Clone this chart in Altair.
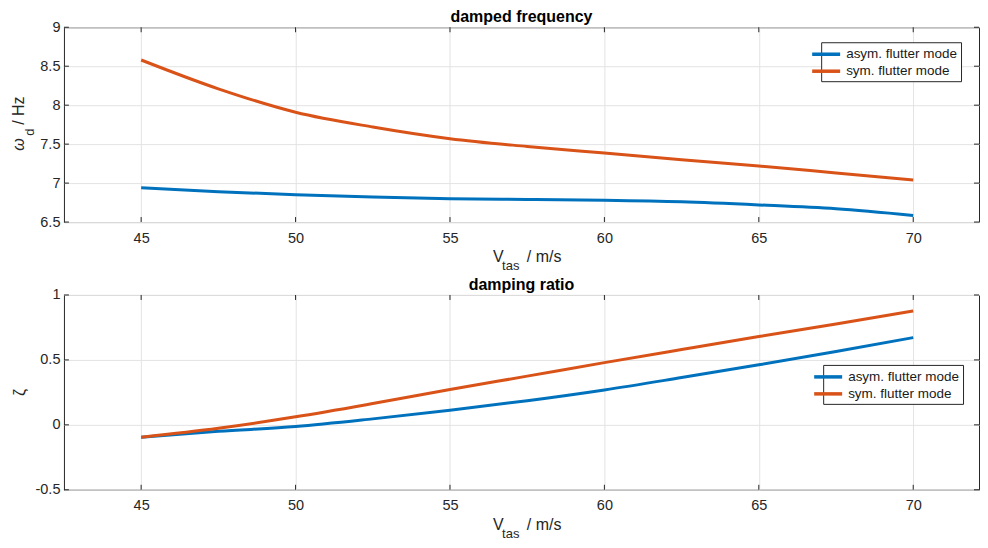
import altair as alt
import pandas as pd

# ---- data ----
speed = [45, 47.5, 50, 52.5, 55, 57.5, 60, 62.5, 65, 67.5, 70]
freq_asym = [6.94, 6.89, 6.85, 6.82, 6.80, 6.79, 6.78, 6.76, 6.72, 6.67, 6.585]
freq_sym = [8.58, 8.21, 7.91, 7.72, 7.57, 7.47, 7.385, 7.30, 7.22, 7.13, 7.04]
damp_asym = [-0.095, -0.05, -0.013, 0.046, 0.113, 0.186, 0.269, 0.364, 0.462, 0.564, 0.672]
damp_sym = [-0.095, -0.026, 0.062, 0.164, 0.272, 0.375, 0.479, 0.58, 0.68, 0.777, 0.877]
series = ["asym. flutter mode", "sym. flutter mode"]
x_ticks = [45, 50, 55, 60, 65, 70]
freq_ticks = [6.5, 7, 7.5, 8, 8.5, 9]
damp_ticks = [-0.5, 0, 0.5, 1]

COLORS = ["#0072BD", "#D95319"]
FONT = "Liberation Sans"
INK = "#262626"
W, H = 916, 195
X_DOM = [42.5, 72.13]

ONE = pd.DataFrame({"k": [0]})


def label(text, x, y, size, angle=0, align="left", style="normal"):
    return alt.Chart(ONE).mark_text(
        text=text, fontSize=size, angle=angle, align=align,
        baseline="alphabetic", font=FONT, color=INK, fontStyle=style,
    ).encode(x=alt.value(x), y=alt.value(y))


def panel(vals_a, vals_s, y_dom, y_ticks, title, leg_x, leg_y, ytitle_layers):
    df = pd.DataFrame({
        "speed": speed + speed,
        "value": vals_a + vals_s,
        "series": [series[0]] * len(speed) + [series[1]] * len(speed),
    })
    xs = alt.Scale(domain=X_DOM, nice=False, zero=False)
    ys = alt.Scale(domain=y_dom, nice=False, zero=False)
    x_axis = alt.Axis(values=x_ticks, labelExpr="datum.value + ''", labelPadding=9,
                      grid=True, ticks=False, domain=False)
    y_axis = alt.Axis(values=y_ticks, labelExpr="datum.value + ''", labelPadding=4,
                      grid=True, ticks=False, domain=False)

    lines = alt.Chart(df).mark_line(strokeWidth=3, interpolate="monotone").encode(
        x=alt.X("speed:Q", scale=xs, title=None, axis=x_axis),
        y=alt.Y("value:Q", scale=ys, title=None, axis=y_axis),
        color=alt.Color("series:N", scale=alt.Scale(domain=series, range=COLORS),
                        legend=alt.Legend(title=None, orient="none",
                                          legendX=leg_x, legendY=leg_y)),
    )

    xt = pd.DataFrame({"t": x_ticks})
    yt = pd.DataFrame({"t": y_ticks})
    tick_style = dict(color=INK, strokeWidth=1)
    xb = alt.Chart(xt).mark_rule(**tick_style).encode(
        x=alt.X("t:Q", scale=xs, title=None, axis=x_axis),
        y=alt.value(H), y2=alt.value(H - 5))
    xtp = alt.Chart(xt).mark_rule(**tick_style).encode(
        x=alt.X("t:Q", scale=xs, title=None, axis=x_axis),
        y=alt.value(0), y2=alt.value(5))
    yl = alt.Chart(yt).mark_rule(**tick_style).encode(
        y=alt.Y("t:Q", scale=ys, title=None, axis=y_axis),
        x=alt.value(0), x2=alt.value(5))
    yr = alt.Chart(yt).mark_rule(**tick_style).encode(
        y=alt.Y("t:Q", scale=ys, title=None, axis=y_axis),
        x=alt.value(W), x2=alt.value(W - 5))

    xtitle = [
        label("V", 429.4, H + 40, 16),
        label("tas", 438.6, H + 48, 13),
        label("/ m/s", 463.4, H + 40, 16),
    ]

    return alt.layer(lines, xb, xtp, yl, yr, *xtitle, *ytitle_layers).properties(
        width=W, height=H,
        title=alt.Title(title, fontSize=16, fontWeight="bold", color="#000000",
                        font=FONT, offset=-6, anchor="middle", frame="group"),
    )


top = panel(
    freq_asym, freq_sym, [6.5, 9], freq_ticks, "damped frequency", 758, 15,
    [
        label("ω", -40.3, H / 2 + 20, 16, angle=270, align="center", style="italic"),
        label("d", -30.3, H / 2 + 7.5, 13, angle=270, align="center"),
        label("/ Hz", -40.3, H / 2 - 14, 16, angle=270, align="center"),
    ],
)
bottom = panel(
    damp_asym, damp_sym, [-0.5, 1], damp_ticks, "damping ratio", 760, 70,
    [label("ζ", -39.3, H / 2, 16, angle=270, align="center")],
)

chart = alt.vconcat(top, bottom, spacing=2).resolve_scale(
    color="independent"
).resolve_legend(color="independent").properties(
    padding={"left": 2, "top": 0, "right": 0, "bottom": 0},
    background="white",
).configure_view(
    stroke=INK, strokeWidth=1
).configure_axis(
    labelFont=FONT, labelFontSize=14.5, labelColor=INK,
    gridColor="#e3e3e3", gridWidth=1,
).configure_legend(
    labelFont=FONT, labelFontSize=13.5, labelColor="#1a1a1a",
    symbolType="M-3,0H1", symbolSize=196, symbolStrokeWidth=3.5,
    strokeColor=INK, fillColor="white", padding=3, rowPadding=1,
    labelOffset=4, cornerRadius=0,
)

chart.save("out.html", embed_options={"renderer": "svg", "actions": False})
